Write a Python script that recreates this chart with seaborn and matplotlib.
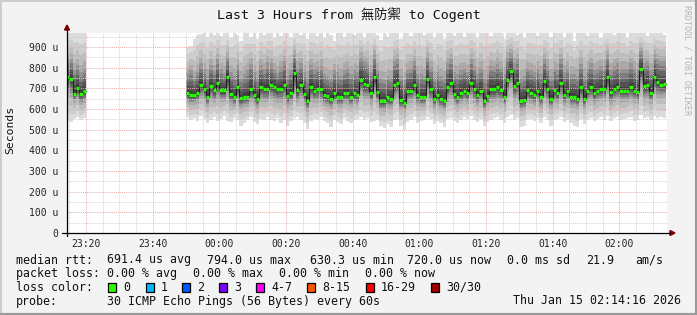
import numpy as np
import matplotlib
matplotlib.use("Agg")
import matplotlib.pyplot as plt
import seaborn as sns
from matplotlib.lines import Line2D
from matplotlib.patches import Rectangle, Polygon

sns.set_style("white")
plt.rcParams['font.family'] = ['DejaVu Sans Mono', 'Noto Sans CJK TC']

# ---------------- data ----------------
title = "Last 3 Hours from 無防禦 to Cogent"
x_tick_minutes = [20, 40, 60, 80, 100, 120, 140, 160, 180]   # minutes after 23:00
x_tick_labels = ["23:20", "23:40", "00:00", "00:20", "00:40", "01:00", "01:20", "01:40", "02:00"]
y_tick_values = [0, 100, 200, 300, 400, 500, 600, 700, 800, 900]   # microseconds
y_tick_labels = ["0", "100 u", "200 u", "300 u", "400 u", "500 u", "600 u", "700 u", "800 u", "900 u"]
x_start, x_end = 14.27, 194.27     # 23:14:16 .. 02:14:16
y_max = 967.7

# segment 1 : 23:14 .. 23:20 (one value per minute, microseconds)
seg1_start = 14
seg1_median = [753, 747, 674, 702, 671, 689]
seg1_lo = [540, 535, 550, 560, 545, 555]
seg1_q1 = [680, 670, 640, 655, 630, 640]
seg1_q3 = [860, 850, 800, 820, 790, 810]
seg1_hi = [968, 968, 968, 968, 968, 968]

# segment 2 : 23:50 .. 02:14
seg2_start = 50
seg2_median = [677, 666, 666, 677, 718, 697, 658, 713, 692, 727,
               690, 690, 755, 672, 660, 705, 652, 660, 660, 697,
               668, 650, 708, 698, 698, 718, 706, 698, 698, 718,
               661, 677, 774, 692, 718, 672, 640, 705, 689, 698,
               698, 668, 661, 650, 677, 660, 660, 677, 677, 660,
               677, 668, 742, 721, 718, 677, 753, 682, 640, 640,
               656, 650, 718, 727, 645, 630, 687, 689, 718, 668,
               660, 660, 747, 698, 650, 666, 650, 640, 708, 727,
               672, 660, 677, 689, 677, 727, 698, 668, 689, 640,
               664, 697, 697, 705, 694, 660, 742, 785, 711, 727,
               640, 645, 694, 677, 668, 689, 658, 734, 698, 650,
               694, 677, 727, 668, 689, 658, 658, 650, 705, 650,
               689, 708, 677, 689, 698, 698, 756, 680, 698, 708,
               689, 689, 689, 708, 689, 680, 794, 712, 718, 679,
               756, 729, 718, 720]
seg2_lo = [560, 548, 555, 540, 565, 552, 530, 545, 560, 540,
           550, 565, 540, 535, 555, 548, 520, 530, 545, 560,
           535, 525, 550, 545, 560, 548, 540, 555, 530, 545,
           520, 540, 555, 560, 548, 530, 505, 540, 552, 545,
           560, 540, 530, 515, 545, 535, 525, 555, 540, 530,
           545, 550, 560, 545, 555, 535, 540, 548, 520, 510,
           525, 515, 545, 550, 520, 500, 535, 545, 560, 530,
           540, 545, 560, 550, 525, 540, 530, 515, 550, 555,
           540, 530, 545, 560, 550, 565, 545, 535, 550, 520,
           535, 545, 555, 560, 545, 530, 560, 570, 545, 555,
           515, 520, 545, 550, 540, 555, 530, 560, 545, 520,
           545, 550, 560, 535, 545, 530, 520, 515, 550, 525,
           545, 555, 540, 550, 560, 545, 565, 540, 555, 560,
           545, 550, 555, 560, 540, 545, 570, 555, 560, 545,
           565, 555, 560, 555]
seg2_q1 = [640, 630, 632, 640, 660, 650, 620, 655, 640, 665,
           645, 645, 680, 630, 620, 650, 612, 620, 622, 645,
           628, 612, 650, 645, 645, 660, 648, 640, 645, 660,
           620, 635, 690, 640, 660, 630, 600, 650, 640, 645,
           645, 628, 620, 612, 635, 620, 620, 635, 635, 620,
           635, 628, 680, 660, 660, 635, 690, 640, 600, 600,
           615, 612, 660, 670, 605, 595, 640, 645, 660, 628,
           620, 622, 690, 645, 612, 625, 610, 600, 650, 665,
           630, 620, 635, 645, 635, 665, 645, 628, 645, 600,
           625, 645, 645, 650, 645, 620, 680, 720, 655, 665,
           600, 605, 645, 635, 628, 645, 618, 670, 645, 612,
           645, 635, 665, 628, 645, 618, 620, 612, 650, 612,
           645, 655, 635, 645, 650, 650, 690, 635, 648, 655,
           645, 645, 645, 655, 645, 635, 720, 655, 660, 638,
           690, 670, 665, 668]
seg2_q3 = [780, 800, 760, 790, 830, 800, 770, 820, 790, 850,
           800, 780, 860, 790, 770, 820, 760, 780, 800, 830,
           790, 760, 820, 800, 840, 830, 800, 780, 810, 840,
           770, 800, 870, 810, 830, 790, 760, 820, 800, 810,
           820, 780, 770, 760, 800, 790, 770, 800, 810, 780,
           800, 790, 860, 840, 830, 790, 870, 800, 760, 750,
           770, 760, 840, 850, 770, 750, 800, 810, 840, 780,
           780, 770, 860, 810, 760, 790, 770, 760, 830, 850,
           790, 780, 800, 810, 790, 850, 820, 780, 810, 760,
           780, 820, 810, 830, 810, 780, 860, 880, 830, 850,
           760, 770, 810, 800, 790, 810, 780, 850, 820, 770,
           810, 800, 850, 790, 810, 780, 780, 770, 830, 770,
           810, 830, 800, 810, 820, 820, 870, 800, 820, 830,
           810, 810, 810, 830, 810, 800, 890, 830, 840, 800,
           870, 850, 840, 840]
seg2_hi = [900, 905, 940, 960, 965, 968, 950, 968, 960, 968,
           955, 968, 968, 945, 968, 960, 930, 968, 968, 950,
           968, 940, 968, 960, 968, 968, 945, 968, 955, 968,
           968, 950, 968, 968, 960, 968, 940, 968, 968, 955,
           968, 945, 968, 960, 930, 968, 968, 950, 968, 968,
           960, 968, 968, 945, 968, 968, 968, 960, 935, 968,
           950, 968, 968, 968, 940, 968, 968, 955, 968, 968,
           968, 960, 968, 968, 945, 968, 968, 940, 968, 968,
           955, 968, 968, 950, 968, 968, 968, 945, 968, 968,
           968, 955, 968, 968, 968, 940, 968, 968, 968, 960,
           968, 945, 968, 968, 968, 955, 968, 968, 968, 950,
           968, 968, 968, 945, 968, 968, 930, 968, 968, 968,
           955, 968, 968, 968, 945, 968, 968, 968, 960, 968,
           968, 968, 945, 968, 968, 968, 968, 968, 955, 968,
           968, 968, 968, 960]

legend_line1 = [("median rtt:", 16), ("691.4 us avg", 107), ("794.0 us max", 207),
                ("630.3 us min", 310), ("720.0 us now", 407), ("0.0 ms sd", 507),
                ("21.9", 586), ("am/s", 635)]
legend_line2 = [("packet loss:", 16), ("0.00 % avg", 107), ("0.00 % max", 193),
                ("0.00 % min", 279), ("0.00 % now", 365)]
loss_labels = ["0", "1", "2", "3", "4-7", "8-15", "16-29", "30/30"]
loss_colors = ["#26ff00", "#00b8ff", "#0059ff", "#7e00ff", "#ff00ff", "#ff5500", "#ff0000", "#a10000"]
loss_box_x = [108, 146, 182, 219, 256, 307, 366, 431]
probe_text = "30 ICMP Echo Pings (56 Bytes) every 60s"
date_text = "Thu Jan 15 02:14:16 2026"

# ---------------- figure ----------------
W, H = 697, 315
fig = plt.figure(figsize=(W / 100, H / 100), dpi=100)
fig.patch.set_facecolor("#f3f3f3")

def fx(x):
    return x / W

def fy(y):
    return 1 - y / H

ax = fig.add_axes([fx(67), fy(233), 600 / W, 200 / H])
ax.set_facecolor("white")
ax.set_xlim(x_start, x_end)
ax.set_ylim(0, y_max)
for s in ax.spines.values():
    s.set_visible(False)

shades = [(1.00, "#dcdcdc"), (0.85, "#cdcdcd"), (0.70, "#bcbcbc"), (0.57, "#a9a9a9"),
          (0.46, "#949494"), (0.36, "#7c7c7c"), (0.26, "#656565"), (0.17, "#515151"),
          (0.08, "#3e3e3e")]


def draw_segment(start, med, lo, q1, q3, hi):
    n = len(med)
    t = np.arange(start, start + n + 1, dtype=float)

    def ext(a):
        a = np.asarray(a, dtype=float)
        return np.append(a, a[-1])

    m, l, a1, a3, h = map(ext, (med, lo, q1, q3, hi))

    def upper(f):
        if f <= 0.5:
            return m + (a3 - m) * f * 2
        return a3 + (h - a3) * (f - 0.5) * 2

    def lower(f):
        if f <= 0.5:
            return m - (m - a1) * f * 2
        return a1 - (a1 - l) * (f - 0.5) * 2

    for f, c in shades:
        ax.fill_between(t, lower(f), upper(f), step="post", color=c, lw=0, zorder=1)
    sns.lineplot(x=t, y=m, drawstyle="steps-post", color="#1e1e1e", lw=0.8,
                 ax=ax, zorder=4, estimator=None)
    ax.hlines(np.asarray(med, float), t[:-1], t[1:], color=loss_colors[0], lw=2.3, zorder=5)


draw_segment(seg1_start, seg1_median, seg1_lo, seg1_q1, seg1_q3, seg1_hi)
draw_segment(seg2_start, seg2_median, seg2_lo, seg2_q1, seg2_q3, seg2_hi)

# grid (drawn over the smoke like rrdtool)
dot = (0, (1, 1))
for v in range(50, 1000, 100):
    ax.axhline(v, color="#d2d2d2", lw=0.7, ls=dot, zorder=2)
for v in y_tick_values[1:]:
    ax.axhline(v, color="#eaaaaa", lw=0.7, ls=dot, zorder=2)
for v in range(15, 195, 5):
    if v not in x_tick_minutes:
        ax.axvline(v, color="#d2d2d2", lw=0.7, ls=dot, zorder=2)
for v in x_tick_minutes:
    ax.axvline(v, color="#eaaaaa", lw=0.7, ls=dot, zorder=2)

ax.set_xticks(x_tick_minutes)
ax.set_xticklabels(x_tick_labels)
ax.set_yticks(y_tick_values)
ax.set_yticklabels(y_tick_labels)
ax.tick_params(axis="both", length=0, labelsize=7, colors="#222222")
ax.tick_params(axis="y", pad=6)
ax.tick_params(axis="x", pad=4)
ax.set_xlabel("")
ax.set_ylabel("")

# axis lines and arrows
fig.add_artist(Line2D([fx(62), fx(670)], [fy(233), fy(233)], color="black", lw=0.9))
fig.add_artist(Line2D([fx(67), fx(67)], [fy(236), fy(30)], color="black", lw=0.9))
fig.add_artist(Polygon([[fx(670), fy(230.5)], [fx(670), fy(235.5)], [fx(675), fy(233)]],
                       closed=True, color="#7a0000", transform=fig.transFigure))
fig.add_artist(Polygon([[fx(64.5), fy(30)], [fx(69.5), fy(30)], [fx(67), fy(25)]],
                       closed=True, color="#7a0000", transform=fig.transFigure))

# frame
fig.add_artist(Rectangle((0, 0), 1, 1, transform=fig.transFigure, fill=False,
                         edgecolor="#cccccc", lw=2))
fig.add_artist(Line2D([fx(697), fx(697)], [0, 1], color="#9a9a9a", lw=3))
fig.add_artist(Line2D([0, 1], [fy(315), fy(315)], color="#9a9a9a", lw=3))

# texts
fig.text(0.5, fy(15), title, ha="center", va="center", fontsize=9.5, color="#111111")
fig.text(fx(10), fy(130), "Seconds", rotation=90, ha="center", va="center", fontsize=8.2,
         color="#111111")
fig.text(fx(687.5), fy(60), "RRDTOOL / TOBI OETIKER", rotation=270, ha="center",
         va="center", fontsize=6, color="#b4b4b4")

fs = 8.4
for txt, x in legend_line1:
    fig.text(fx(x), fy(260), txt, ha="left", va="center", fontsize=fs, color="#111111")
for txt, x in legend_line2:
    fig.text(fx(x), fy(273.5), txt, ha="left", va="center", fontsize=fs, color="#111111")
fig.text(fx(16), fy(287.3), "loss color:", ha="left", va="center", fontsize=fs, color="#111111")
for lab, col, bx in zip(loss_labels, loss_colors, loss_box_x):
    fig.add_artist(Rectangle((fx(bx), fy(291.5)), 8 / W, 9 / H, transform=fig.transFigure,
                             facecolor=col, edgecolor="black", lw=0.9))
    fig.text(fx(bx + 15), fy(287.3), lab, ha="left", va="center", fontsize=fs, color="#111111")
fig.text(fx(16), fy(301), "probe:", ha="left", va="center", fontsize=fs, color="#111111")
fig.text(fx(107), fy(301), probe_text, ha="left", va="center", fontsize=fs, color="#111111")
fig.text(fx(513), fy(301), date_text, ha="left", va="center", fontsize=fs, color="#111111")

fig.savefig("out.png", dpi=100, facecolor=fig.get_facecolor())
